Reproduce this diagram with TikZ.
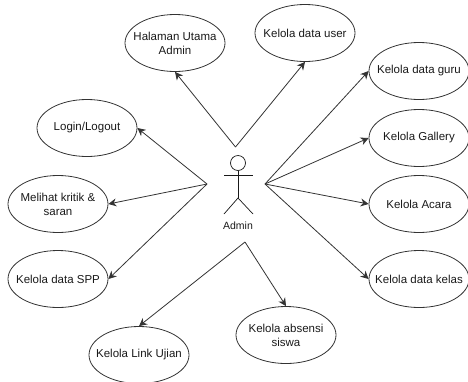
\documentclass[tikz,border=0pt]{standalone}
\usepackage{fontspec}
\setmainfont{Liberation Sans}
\usetikzlibrary{arrows.meta,shapes.geometric}
\tikzset{
    usecase/.style={draw=black!80, thick, ellipse, minimum width=100pt, minimum height=57pt, inner sep=-16pt, align=center, font=\fontsize{11.5}{14}\selectfont, text=black!90},
    assoc/.style={draw=black!80, thick, -{Stealth[length=8pt,width=8pt]}},
    actorline/.style={draw=black!90, line width=0.7pt}
}
\begin{document}
\begin{tikzpicture}[x=1pt, y=-1pt]
    \useasboundingbox (0,0) rectangle (468,381);

    % Draw use cases
    \foreach \ucname/\ucx/\ucy/\uctext in {
        halaman/175/43/{Halaman Utama\\Admin},
        user/305/33/{Kelola data user},
        login/87/128/{Login/Logout},
        kritik/58/204/{Melihat kritik \&\\saran},
        spp/58/279/{Kelola data SPP},
        ujian/139/355/{Kelola Link Ujian},
        absensi/286/335/{Kelola absensi\\siswa},
        guru/419/71/{Kelola data guru},
        gallery/419/138/{Kelola Gallery},
        acara/419/204/{Kelola Acara},
        kelas/419/279/{Kelola data kelas}} {
        \node[usecase] (\ucname) at (\ucx,\ucy) {\uctext};
    }

    % Draw actor
    \node[draw=black!90, line width=0.7pt, circle, minimum size=15pt, inner sep=0pt] (head) at (238,163) {};
    \coordinate (hip) at (238,198);
    \coordinate (armleft) at (224,175);
    \coordinate (armright) at (253,175);
    \coordinate (legleft) at (224,214);
    \coordinate (legright) at (253,214);
    \draw[actorline] (head.south) -- (hip);
    \draw[actorline] (armleft) -- (armright);
    \draw[actorline] (legleft) -- (hip) -- (legright);
    \node[font=\fontsize{10.5}{12}\selectfont, text=black!90] (admin) at (238,226) {Admin};

    % Start points of the associations
    \coordinate (fromtop) at (235.5,147);
    \coordinate (fromleft) at (207,184);
    \coordinate (fromright) at (265,184);
    \coordinate (frombottom) at (245,242);

    % Loop through each association
    \foreach \from/\to in {
        fromtop/halaman.south, fromtop/user.south,
        fromleft/login.east, fromleft/kritik.east, fromleft/spp.east,
        fromright/guru.west, fromright/gallery.west, fromright/acara.west, fromright/kelas.west,
        frombottom/ujian.north, frombottom/absensi.north} {
        \draw[assoc] (\from) -- (\to);
    }
\end{tikzpicture}
\end{document}
